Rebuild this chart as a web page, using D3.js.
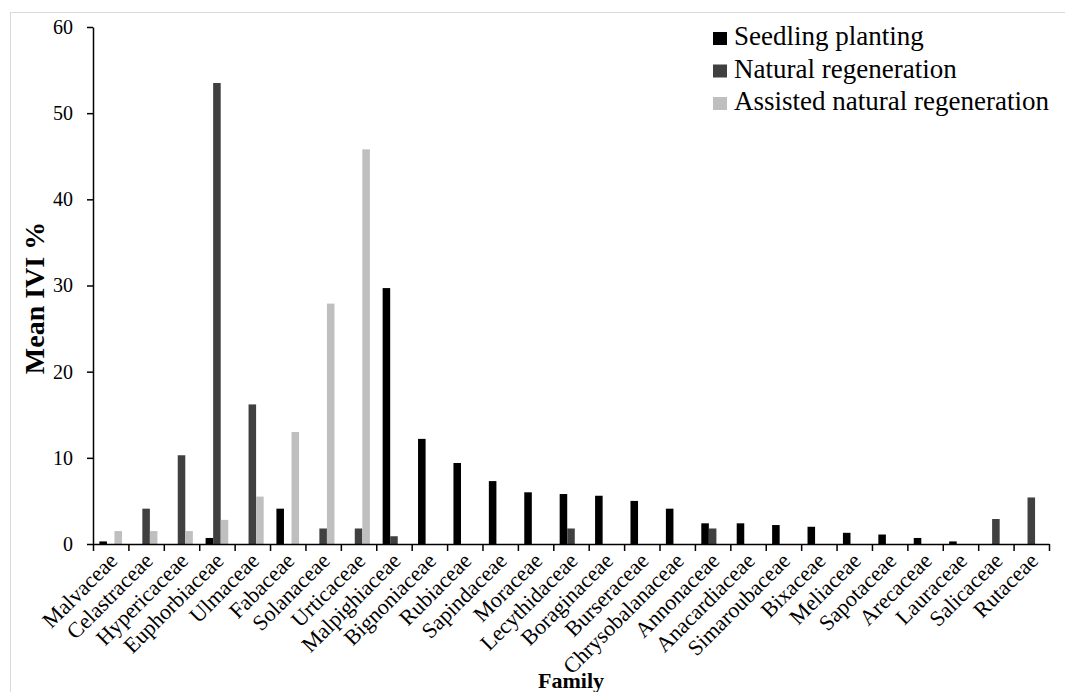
<!DOCTYPE html>
<html>
<head>
<meta charset="utf-8">
<script src="https://cdn.jsdelivr.net/npm/d3@7"></script>
<style>
  html, body { margin: 0; padding: 0; background: #fff; }
  svg { display: block; }
  text { font-family: "Liberation Serif", "Times New Roman", serif; fill: #000; }
</style>
</head>
<body>
<svg id="chart" width="1065" height="692"></svg>
<script>
const categories = ["Malvaceae","Celastraceae","Hypericaceae","Euphorbiaceae","Ulmaceae","Fabaceae","Solanaceae","Urticaceae","Malpighiaceae","Bignoniaceae","Rubiaceae","Sapindaceae","Moraceae","Lecythidaceae","Boraginaceae","Burseraceae","Chrysobalanaceae","Annonaceae","Anacardiaceae","Simaroubaceae","Bixaceae","Meliaceae","Sapotaceae","Arecaceae","Lauraceae","Salicaceae","Rutaceae"];
const seriesNames = ["Seedling planting","Natural regeneration","Assisted natural regeneration"];
const seedling = [0.3,0,0,0.7,0,4.1,0,0,29.7,12.2,9.4,7.3,6.0,5.8,5.6,5.0,4.1,2.4,2.4,2.2,2.0,1.3,1.1,0.7,0.3,0,0];
const natural  = [0,4.1,10.3,53.5,16.2,0,1.8,1.8,0.9,0,0,0,0,1.8,0,0,0,1.8,0,0,0,0,0,0,0,2.9,5.4];
const assisted = [1.5,1.5,1.5,2.8,5.5,13.0,27.9,45.8,0,0,0,0,0,0,0,0,0,0,0,0,0,0,0,0,0,0,0];
const yTicks = [0,10,20,30,40,50,60];
const colors = ["#000000","#404040","#bfbfbf"];

const svg = d3.select("#chart");
const mLeft = 93, mRight = 1049, mTop = 27, mBottom = 544;

// outer frame
svg.append("rect").attr("x",10.5).attr("y",12.5).attr("width",1070).attr("height",700)
  .attr("fill","none").attr("stroke","#d9d9d9").attr("stroke-width",1);

const y = d3.scaleLinear().domain([0,60]).range([mBottom, mTop]);
const x0 = d3.scaleBand().domain(categories).range([mLeft, mRight]).paddingInner(0.36).paddingOuter(0.18);
const x1 = d3.scaleBand().domain(seriesNames).range([0, x0.bandwidth()]).padding(0);
const xb = d3.scaleLinear().domain([0, categories.length]).range([mLeft, mRight]);

const data = categories.map((c,i) => ({cat:c, vals:[seedling[i], natural[i], assisted[i]]}));

// bars
const g = svg.append("g");
g.selectAll("g.cat").data(data).join("g").attr("class","cat")
  .attr("transform", d => `translate(${x0(d.cat)},0)`)
  .selectAll("rect").data(d => d.vals.map((v,k) => ({v, k})))
  .join("rect")
  .attr("x", d => x1(seriesNames[d.k]))
  .attr("width", x1.bandwidth())
  .attr("y", d => y(d.v))
  .attr("height", d => y(0) - y(d.v))
  .attr("fill", d => colors[d.k]);

// y axis
const ya = svg.append("g").attr("transform", `translate(${mLeft},0)`)
  .call(d3.axisLeft(y).tickValues(yTicks).tickSize(6).tickSizeOuter(0).tickPadding(14));
ya.selectAll("text").style("font-size","20px").attr("font-family","Liberation Serif");
ya.selectAll("line, path").attr("stroke","#000").attr("stroke-width",1.5);

// x axis
const xa = svg.append("g").attr("transform", `translate(0,${mBottom})`)
  .call(d3.axisBottom(xb).tickValues(d3.range(categories.length+1)).tickFormat("").tickSize(7).tickSizeOuter(0));
xa.selectAll("line, path").attr("stroke","#000").attr("stroke-width",1.5);

// x labels
svg.append("g").selectAll("text").data(categories).join("text")
  .attr("transform", d => `translate(${x0(d) + x0.bandwidth()/2 + 8},${mBottom + 18}) rotate(-45)`)
  .attr("text-anchor","end")
  .style("font-size","22px")
  .text(d => d);

// axis titles
svg.append("text").attr("x", (mLeft+mRight)/2).attr("y", 688)
  .attr("text-anchor","middle").style("font-size","22px").style("font-weight","bold").text("Family");
svg.append("text").attr("transform", `translate(44,298) rotate(-90)`)
  .attr("text-anchor","middle").style("font-size","28px").style("font-weight","bold").text("Mean IVI %");

// legend
const lg = svg.append("g").attr("transform","translate(713,25)");
seriesNames.forEach((s,i) => {
  lg.append("rect").attr("x",0).attr("y", i*32.5 + 7).attr("width",14).attr("height",13).attr("fill",colors[i]);
  lg.append("text").attr("x",21).attr("y", i*32.5 + 20).style("font-size","27px").text(s);
});
</script>
</body>
</html>
